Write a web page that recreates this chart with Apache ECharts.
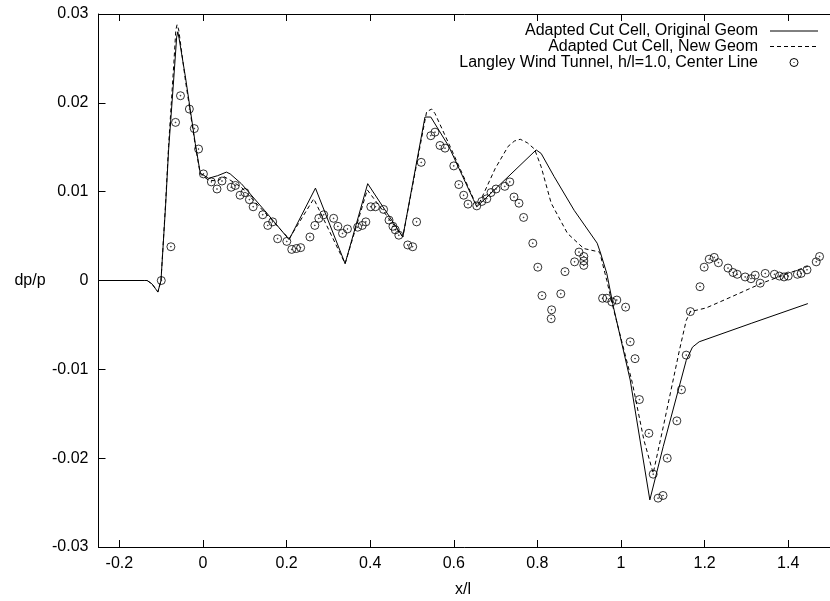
<!DOCTYPE html>
<html>
<head>
<meta charset="utf-8">
<script src="https://cdn.jsdelivr.net/npm/echarts@6/dist/echarts.min.js"></script>
<style>
  html, body { margin: 0; padding: 0; background: #fff; }
  #chart { width: 830px; height: 601px; }
</style>
</head>
<body>
<div id="chart"></div>
<script>
// Tick positions
const xTicks = [-0.2, 0, 0.2, 0.4, 0.6, 0.8, 1, 1.2, 1.4];
const yTicks = [-0.03, -0.02, -0.01, 0, 0.01, 0.02, 0.03];

// Series names
const nameOriginal = 'Adapted Cut Cell, Original Geom';
const nameNew = 'Adapted Cut Cell, New Geom';
const nameTunnel = 'Langley Wind Tunnel, h/l=1.0, Center Line';

// Adapted cut cell, original geometry: [x/l, dp/p]
const originalGeom = [
  [-0.25, 0], [-0.14, 0], [-0.1336, 0], [-0.1217, -0.0004], [-0.114, -0.0009], [-0.108, -0.0013],
  [-0.1005, 0.0000], [-0.0894, 0.0085], [-0.0823, 0.0147], [-0.0697, 0.0229], [-0.063, 0.0274],
  [-0.0603, 0.0280], [-0.057, 0.0272], [-0.042, 0.0229], [-0.0184, 0.0154], [-0.0066, 0.0121],
  [0.013, 0.0115], [0.035, 0.0118], [0.056, 0.0122], [0.065, 0.0120], [0.0917, 0.0109],
  [0.147, 0.0079], [0.206, 0.0046], [0.269, 0.0104], [0.34, 0.0019], [0.394, 0.0109],
  [0.478, 0.0049], [0.531, 0.0184], [0.545, 0.0184], [0.588, 0.0151], [0.647, 0.0091],
  [0.655, 0.0083], [0.797, 0.0147], [0.809, 0.0143], [0.840, 0.0117], [0.888, 0.0079],
  [0.943, 0.0042], [0.951, 0.0031], [0.966, 0.0008], [0.982, -0.0030], [1.022, -0.0112],
  [1.069, -0.0247], [1.101, -0.0187], [1.156, -0.0090], [1.171, -0.0075], [1.187, -0.0069],
  [1.313, -0.0048], [1.447, -0.0026]
];

// Adapted cut cell, new geometry: [x/l, dp/p]
const newGeom = [
  [-0.25, 0], [-0.14, 0], [-0.1336, 0], [-0.1217, -0.0004], [-0.114, -0.0009], [-0.108, -0.0013],
  [-0.1005, 0.0000], [-0.0894, 0.0088], [-0.0823, 0.0152], [-0.0697, 0.0245], [-0.065, 0.0282],
  [-0.062, 0.0288], [-0.058, 0.0282], [-0.042, 0.0225], [-0.0184, 0.0152], [-0.0066, 0.0120],
  [0.013, 0.0113], [0.035, 0.0112], [0.05, 0.0117], [0.065, 0.0113], [0.0917, 0.0105],
  [0.147, 0.0077], [0.206, 0.0047], [0.265, 0.0092], [0.34, 0.0019], [0.393, 0.0102],
  [0.478, 0.0049], [0.535, 0.0190], [0.547, 0.0193], [0.555, 0.0188], [0.592, 0.0150],
  [0.65, 0.0089], [0.659, 0.0085], [0.699, 0.0126], [0.730, 0.0151], [0.745, 0.0157],
  [0.759, 0.0159], [0.776, 0.0155], [0.793, 0.0148], [0.809, 0.0128], [0.833, 0.0087],
  [0.872, 0.0053], [0.911, 0.0036], [0.949, 0.0032], [0.966, 0.0000], [0.982, -0.0032],
  [1.027, -0.0115], [1.055, -0.0180], [1.077, -0.0217], [1.101, -0.0165], [1.14, -0.0078],
  [1.156, -0.0045], [1.166, -0.0035], [1.203, -0.0031], [1.266, -0.0018], [1.337, -0.0003],
  [1.40, 0.0008], [1.447, 0.0016]
];

// Langley wind tunnel measurements, h/l=1.0, center line: [x/l, dp/p]
const windTunnel = [
  [-0.0998, 0.0000], [-0.0768, 0.0038], [-0.0657, 0.0178], [-0.0539, 0.0208], [-0.0326, 0.0193],
  [-0.0208, 0.0171], [-0.0106, 0.0148], [0.0010, 0.0120], [0.0200, 0.0111], [0.0335, 0.0103],
  [0.0454, 0.0112], [0.0674, 0.0105], [0.0776, 0.0107], [0.0887, 0.0096], [0.1005, 0.0099],
  [0.1110, 0.0091], [0.1200, 0.0083], [0.1430, 0.0074], [0.1550, 0.0062], [0.1667, 0.0066],
  [0.1785, 0.0047], [0.2005, 0.0044], [0.2123, 0.0035], [0.2234, 0.0036], [0.2336, 0.0037],
  [0.2558, 0.0049], [0.2676, 0.0062], [0.2771, 0.0070], [0.2889, 0.0074], [0.3125, 0.0070],
  [0.3227, 0.0061], [0.3338, 0.0053], [0.3456, 0.0058], [0.3700, 0.0060], [0.3810, 0.0062],
  [0.3896, 0.0066], [0.4014, 0.0083], [0.4125, 0.0083], [0.4320, 0.0080], [0.4450, 0.0068],
  [0.4544, 0.0061], [0.4600, 0.0057], [0.4685, 0.0051], [0.4898, 0.0040], [0.5017, 0.0038],
  [0.5110, 0.0066], [0.5220, 0.0133], [0.5450, 0.0163], [0.5550, 0.0167], [0.5670, 0.0152],
  [0.5790, 0.0149], [0.6000, 0.0129], [0.6120, 0.0108], [0.6237, 0.0096], [0.6340, 0.0086],
  [0.6550, 0.0084], [0.6670, 0.0089], [0.6790, 0.0092], [0.6890, 0.0099], [0.7010, 0.0103],
  [0.7220, 0.0106], [0.7340, 0.0111], [0.7440, 0.0094], [0.7560, 0.0087], [0.7670, 0.0071],
  [0.7890, 0.0042], [0.8010, 0.0015], [0.8110, -0.0017], [0.8330, -0.0043], [0.8340, -0.0033],
  [0.8560, -0.0015], [0.8660, 0.0010], [0.8890, 0.0021], [0.8995, 0.0032], [0.9110, 0.0027],
  [0.9110, 0.0022], [0.9110, 0.0017], [0.9560, -0.0020], [0.9660, -0.0020], [0.9780, -0.0024],
  [0.9900, -0.0022], [1.0110, -0.0030], [1.0220, -0.0069], [1.0336, -0.0088], [1.0440, -0.0134],
  [1.0667, -0.0172], [1.0770, -0.0218], [1.0887, -0.0245], [1.1005, -0.0242], [1.1106, -0.0200],
  [1.1336, -0.0158], [1.1447, -0.0123], [1.1560, -0.0084], [1.1660, -0.0035], [1.1890, -0.0007],
  [1.1990, 0.0015], [1.2110, 0.0024], [1.2230, 0.0026], [1.2330, 0.0020], [1.2560, 0.0014],
  [1.2680, 0.0009], [1.2780, 0.0007], [1.2970, 0.0004], [1.3110, 0.0002], [1.3210, 0.0006],
  [1.3330, -0.0003], [1.3450, 0.0008], [1.3670, 0.0007], [1.3790, 0.0005], [1.3900, 0.0004],
  [1.4000, 0.0005], [1.4220, 0.0007], [1.4310, 0.0008], [1.4450, 0.0012], [1.4670, 0.0021],
  [1.4750, 0.0027]
];

const FONT = '"Liberation Sans", Arial, Helvetica, sans-serif';
const FS = 16;

// Circle with a centre dot, drawn as an outlined path
const dotCircle = 'path://M5,0A5,5 0 1 1 -5,0A5,5 0 1 1 5,0Z M0.5,0A0.5,0.5 0 1 1 -0.5,0A0.5,0.5 0 1 1 0.5,0Z';

const fmtX = v => (Math.abs(v) < 1e-9 ? '0' : String(parseFloat(v.toFixed(1))));
const fmtY = v => (Math.abs(v) < 1e-9 ? '0' : String(parseFloat(v.toFixed(2))));

const axisLineStyle = { show: true, onZero: false, lineStyle: { color: '#000', width: 1 } };
const tickStyle = { show: true, inside: true, length: 7, lineStyle: { color: '#000', width: 1 } };

const chart = echarts.init(document.getElementById('chart'), null, { renderer: 'canvas' });

// Legend rows (text right-aligned, sample to the right)
const legendTextX = 758, sampleX0 = 770, sampleX1 = 818;
const rowY = [31, 46.5, 62.5];

chart.setOption({
  animation: false,
  backgroundColor: '#fff',
  grid: { left: 98.5, top: 14, width: 740, height: 533, containLabel: false },
  xAxis: [
    {
      type: 'value', position: 'bottom', min: -0.25, max: 1.5,
      axisLine: axisLineStyle,
      axisTick: Object.assign({ customValues: xTicks }, tickStyle),
      axisLabel: { customValues: xTicks, formatter: fmtX, color: '#000', fontFamily: FONT, fontSize: FS, margin: 9 },
      splitLine: { show: false }
    },
    {
      type: 'value', position: 'top', min: -0.25, max: 1.5,
      axisLine: axisLineStyle,
      axisTick: Object.assign({ customValues: xTicks }, tickStyle),
      axisLabel: { show: false },
      splitLine: { show: false }
    }
  ],
  yAxis: {
    type: 'value', min: -0.03, max: 0.03, interval: 0.01,
    axisLine: axisLineStyle,
    axisTick: tickStyle,
    axisLabel: { formatter: fmtY, color: '#000', fontFamily: FONT, fontSize: FS, margin: 10 },
    splitLine: { show: false }
  },
  series: [
    {
      name: nameOriginal, type: 'line', data: originalGeom,
      showSymbol: false, symbol: 'none', smooth: false,
      lineStyle: { color: '#000', width: 1 }
    },
    {
      name: nameNew, type: 'line', data: newGeom,
      showSymbol: false, symbol: 'none', smooth: false,
      lineStyle: { color: '#000', width: 1, type: [4, 3] }
    },
    {
      name: nameTunnel, type: 'scatter', data: windTunnel,
      symbol: dotCircle, symbolSize: 8,
      itemStyle: { color: 'rgba(0,0,0,0)', borderColor: '#000', borderWidth: 1 }
    }
  ],
  graphic: [
    // axis titles
    { type: 'text', x: 30, y: 281, style: { text: 'dp/p', font: FS + 'px ' + FONT, fill: '#000', align: 'center', verticalAlign: 'middle' } },
    { type: 'text', x: 463, y: 590, style: { text: 'x/l', font: FS + 'px ' + FONT, fill: '#000', align: 'center', verticalAlign: 'middle' } },
    // legend
    { type: 'text', x: legendTextX, y: rowY[0], style: { text: nameOriginal, font: FS + 'px ' + FONT, fill: '#000', align: 'right', verticalAlign: 'middle' } },
    { type: 'line', shape: { x1: sampleX0, y1: rowY[0], x2: sampleX1, y2: rowY[0] }, style: { stroke: '#000', lineWidth: 1 } },
    { type: 'text', x: legendTextX, y: rowY[1], style: { text: nameNew, font: FS + 'px ' + FONT, fill: '#000', align: 'right', verticalAlign: 'middle' } },
    { type: 'line', shape: { x1: sampleX0, y1: rowY[1], x2: sampleX1, y2: rowY[1] }, style: { stroke: '#000', lineWidth: 1, lineDash: [4, 3] } },
    { type: 'text', x: legendTextX, y: rowY[2], style: { text: nameTunnel, font: FS + 'px ' + FONT, fill: '#000', align: 'right', verticalAlign: 'middle' } },
    { type: 'circle', shape: { cx: (sampleX0 + sampleX1) / 2, cy: rowY[2], r: 4 }, style: { stroke: '#000', lineWidth: 1, fill: 'none' } },
    { type: 'circle', shape: { cx: (sampleX0 + sampleX1) / 2, cy: rowY[2], r: 0.6 }, style: { fill: '#000' } }
  ]
});
</script>
</body>
</html>
